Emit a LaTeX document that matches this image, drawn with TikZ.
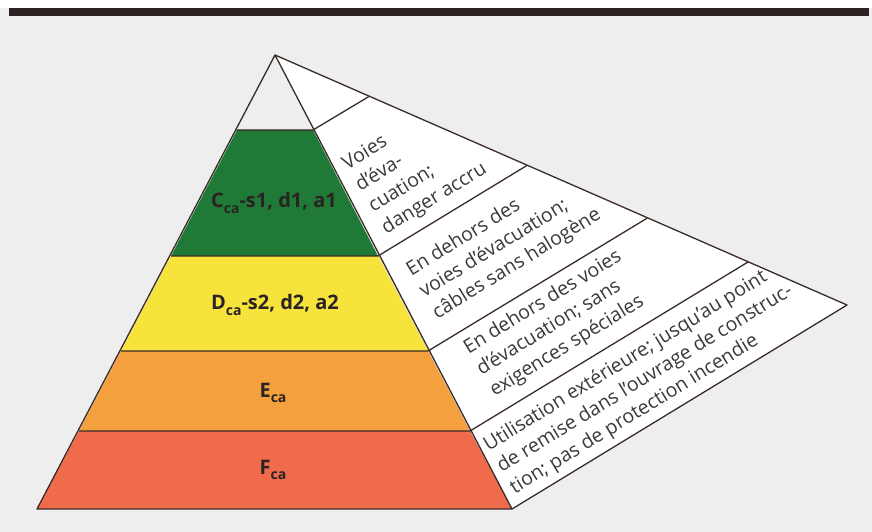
\documentclass[tikz,border=0pt]{standalone}
\usepackage{fontspec}
\setmainfont{Open Sans}
\usepackage{xcolor}
\usetikzlibrary{calc}

\definecolor{fond}{HTML}{EEEEEE}
\definecolor{barre}{HTML}{2A2322}
\definecolor{trait}{HTML}{3A2B27}
\definecolor{vert}{HTML}{1E7A36}
\definecolor{jaune}{HTML}{F6E33C}
\definecolor{orange}{HTML}{F4A03F}
\definecolor{rouge}{HTML}{EF6B4B}
\definecolor{texte}{HTML}{3A3A3A}

\newcommand{\cl}[1]{\raisebox{-0.5ex}{\fontsize{14}{14}\selectfont #1}}

\tikzset{
  contour/.style={draw=trait, line width=1.3pt, line join=round},
  niveau/.style={font=\fontsize{20}{22}\selectfont\bfseries, text=barre},
  usage/.style={font=\fontsize{19.5}{25}\selectfont, text=texte, rotate=31.5,
    align=left, inner sep=0pt}
}

\begin{document}
\begin{tikzpicture}[x=1pt, y=-1pt]
  % fond de page
  \fill[fond] (0,0) rectangle (872,532);
  \fill[white] (0,0) rectangle (872,8);
  \fill[barre] (9,8) rectangle (869,16);
  \useasboundingbox (0,0) rectangle (872,532);

  % sommets
  \coordinate (apex) at (275,55);
  \coordinate (tip) at (847,305);
  \coordinate (l1) at (237,130); \coordinate (r1) at (313,130);
  \coordinate (l2) at (171,256); \coordinate (r2) at (378,256);
  \coordinate (l3) at (121,351); \coordinate (r3) at (428,351);
  \coordinate (l4) at (79,431);  \coordinate (r4) at (470,431);
  \coordinate (l5) at (37,509);  \coordinate (r5) at (512,509);
  \coordinate (t1) at (368.8,96.6);
  \coordinate (t2) at (527.2,165.3);
  \coordinate (t3) at (647.1,218.2);
  \coordinate (t4) at (748,262);

  % panneau lateral (blanc)
  \fill[white] (apex) -- (tip) -- (r5) -- cycle;

  % niveaux
  \fill[vert] (l1) -- (r1) -- (r2) -- (l2) -- cycle;
  \fill[jaune] (l2) -- (r2) -- (r3) -- (l3) -- cycle;
  \fill[orange] (l3) -- (r3) -- (r4) -- (l4) -- cycle;
  \fill[rouge] (l4) -- (r4) -- (r5) -- (l5) -- cycle;

  % traits
  \draw[contour] (apex) -- (l5) -- (r5) -- (tip) -- cycle;
  \draw[contour] (apex) -- (r5);
  \foreach \k in {1,...,4}
    \draw[contour] (l\k) -- (r\k) -- (t\k);

  % classes
  \node[niveau] (classC) at (274,203) {C\cl{ca}-s1, d1, a1};
  \node[niveau] (classD) at (275,305) {D\cl{ca}-s2, d2, a2};
  \node[niveau] (classE) at (273,393) {E\cl{ca}};
  \node[niveau] (classF) at (273,470) {F\cl{ca}};

  % domaines d'utilisation
  \node[usage] (usageC) at (415,167) {Voies\\d'éva-\\cuation;\\danger accru};
  \node[usage] (usageD) at (504,243) {En dehors des\\voies d'évacuation;\\câbles sans halogène};
  \node[usage] (usageE) at (556,324) {En dehors des voies\\d'évacuation; sans\\exigences spéciales};
  \node[usage] (usageF) at (645,379) {Utilisation extérieure; jusqu'au point\\de remise dans l'ouvrage de construc-\\tion; pas de protection incendie};
\end{tikzpicture}
\end{document}
